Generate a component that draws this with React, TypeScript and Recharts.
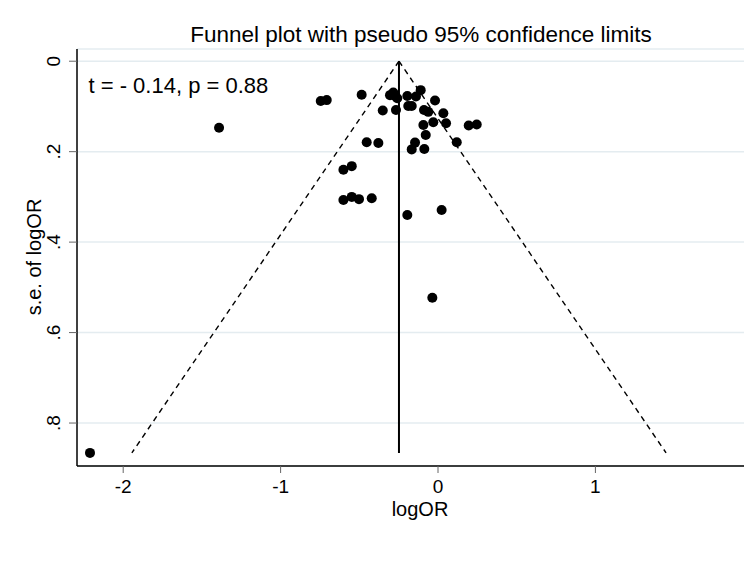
import React from 'react';
import {
  ScatterChart, Scatter, XAxis, YAxis, CartesianGrid, ReferenceLine
} from 'recharts';

// study estimates
const logOR = [
  -2.211, -1.391, -0.745, -0.707, -0.485, -0.305, -0.284, -0.273, -0.259, -0.195,
  -0.140, -0.110, -0.019, -0.351, -0.267, -0.189, -0.167, -0.089, -0.062, 0.034,
  -0.093, -0.030, 0.051, 0.195, 0.246, -0.078, 0.119, -0.453, -0.379, -0.146,
  -0.167, -0.087, -0.601, -0.548, -0.601, -0.548, -0.502, -0.421, -0.195, 0.023,
  -0.036,
];
const seLogOR = [
  0.866, 0.147, 0.088, 0.086, 0.074, 0.075, 0.069, 0.077, 0.082, 0.077,
  0.078, 0.064, 0.087, 0.109, 0.108, 0.099, 0.099, 0.108, 0.112, 0.115,
  0.141, 0.135, 0.137, 0.142, 0.140, 0.163, 0.179, 0.179, 0.181, 0.180,
  0.195, 0.194, 0.240, 0.232, 0.307, 0.300, 0.305, 0.303, 0.340, 0.329,
  0.523,
];

// pooled estimate and pseudo 95% limits at the largest s.e.
const pooledLogOR = -0.248;
const funnelSe = 0.866;
const funnelLimits = [-1.945, 1.449];

const xTicks = [-2, -1, 0, 1];
const yTicks = [0, 0.2, 0.4, 0.6, 0.8];
const yTickLabels = ['0', '.2', '.4', '.6', '.8'];

const points = logOR.map((x, i) => ({ x, y: seLogOR[i] }));

const FONT = '"Liberation Sans", Arial, sans-serif';

const YTick = (props: any) => {
  const { y, payload } = props;
  const idx = yTicks.indexOf(payload.value);
  return (
    <text
      transform={`translate(60, ${y}) rotate(-90)`}
      textAnchor="middle"
      fontSize={19}
      fontFamily={FONT}
      fill="#000"
    >
      {idx >= 0 ? yTickLabels[idx] : payload.value}
    </text>
  );
};

const Dot = (props: any) => (
  <circle cx={props.cx} cy={props.cy} r={5} fill="#000" />
);

export default function App() {
  return (
    <div style={{ position: 'absolute', left: 0, top: 0, width: 744, height: 568, background: '#fff', fontFamily: FONT }}>
      <ScatterChart
        width={744}
        height={568}
        margin={{ top: 49, right: 0, bottom: 62, left: 17 }}
      >
        <CartesianGrid vertical={false} stroke="#e4ecf0" strokeWidth={1.5} />
        <XAxis
          type="number"
          dataKey="x"
          domain={[-2.2935, 1.944]}
          ticks={xTicks}
          allowDataOverflow
          height={40}
          axisLine={{ stroke: '#000', strokeWidth: 1.5 }}
          tickLine={{ stroke: '#666' }}
          tickSize={7}
          tickMargin={7}
          tick={{ fill: '#000', fontSize: 19, fontFamily: FONT }}
        />
        <YAxis
          type="number"
          dataKey="y"
          reversed
          domain={[-0.027, 0.895]}
          ticks={yTicks}
          allowDataOverflow
          width={60}
          axisLine={{ stroke: '#000', strokeWidth: 1.5 }}
          tickLine={{ stroke: '#666' }}
          tickSize={8}
          tick={<YTick />}
        />
        <ReferenceLine
          segment={[{ x: pooledLogOR, y: 0 }, { x: funnelLimits[0], y: funnelSe }]}
          stroke="#000"
          strokeWidth={1.4}
          strokeDasharray="5.5 4.5"
        />
        <ReferenceLine
          segment={[{ x: pooledLogOR, y: 0 }, { x: funnelLimits[1], y: funnelSe }]}
          stroke="#000"
          strokeWidth={1.4}
          strokeDasharray="5.5 4.5"
        />
        <ReferenceLine
          segment={[{ x: pooledLogOR, y: 0 }, { x: pooledLogOR, y: funnelSe }]}
          stroke="#000"
          strokeWidth={2}
        />
        <Scatter data={points} shape={<Dot />} isAnimationActive={false} />
      </ScatterChart>
      <svg
        width={744}
        height={568}
        style={{ position: 'absolute', left: 0, top: 0, pointerEvents: 'none' }}
        fontFamily={FONT}
      >
        <text x={421} y={41.5} textAnchor="middle" fontSize={22.5} fill="#000">
          Funnel plot with pseudo 95% confidence limits
        </text>
        <text x={88.5} y={93} fontSize={22} fill="#000">
          t = - 0.14, p = 0.88
        </text>
        <text x={420} y={516} textAnchor="middle" fontSize={20} fill="#000">
          logOR
        </text>
        <text transform="translate(41, 257) rotate(-90)" textAnchor="middle" fontSize={20} fill="#000">
          s.e. of logOR
        </text>
      </svg>
    </div>
  );
}
